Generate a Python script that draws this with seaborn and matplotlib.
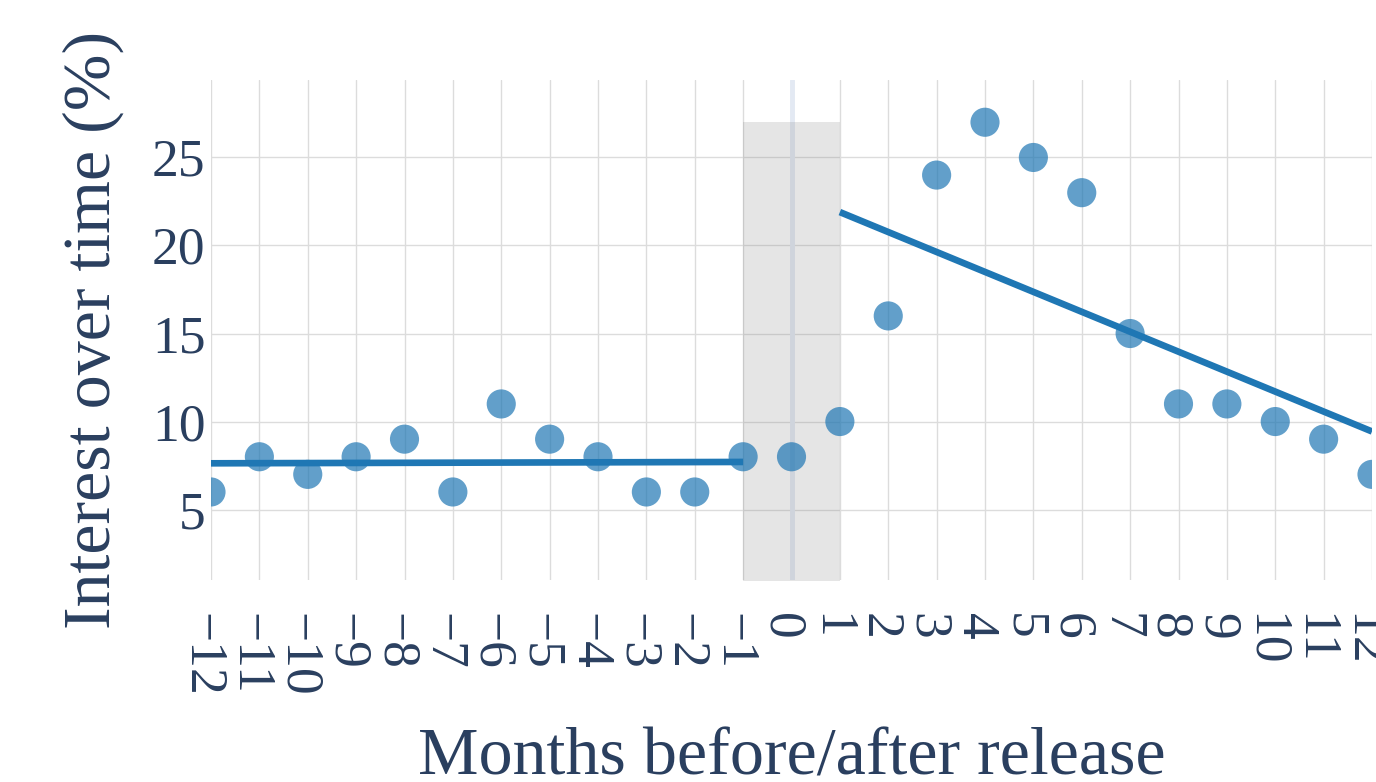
import numpy as np
import pandas as pd
import matplotlib
matplotlib.use('Agg')
import matplotlib.pyplot as plt
import matplotlib.transforms as mtransforms
import seaborn as sns

# data
months = list(range(-12, 13))
interest = [6, 8, 7, 8, 9, 6, 11, 9, 8, 6, 6, 8, 8,
            10, 16, 24, 27, 25, 23, 15, 11, 11, 10, 9, 7]
y_ticks = [5, 10, 15, 20, 25]

# release window (shaded) and the two fitted segments
shade_start, shade_end = -1, 1
pre_months = list(range(-12, 0))
post_months = list(range(1, 13))

df = pd.DataFrame({'month': months, 'interest': interest})
pre = df[df['month'].isin(pre_months)]
post = df[df['month'].isin(post_months)]

TEXT = '#2a3f5f'
BLUE = '#1f77b4'

sns.set_style('white')
plt.rcParams['font.family'] = ['Liberation Serif', 'DejaVu Serif']
plt.rcParams['axes.unicode_minus'] = True

fig = plt.figure(figsize=(13.76, 7.82), dpi=100)
ax = fig.add_axes([211 / 1376, 1 - 580 / 782, (1372 - 211) / 1376, 500 / 782])

# grid
for t in months:
    ax.axvline(t, color='#dcdcdc', lw=1, zorder=0)
for t in y_ticks:
    ax.axhline(t, color='#dcdcdc', lw=1, zorder=0)
ax.axvline(0, color='#e3e9f3', lw=3.5, zorder=0.5)

# release window
ax.fill_between([shade_start, shade_end], 0, max(interest),
                color='grey', alpha=0.2, lw=0, zorder=1)

sns.scatterplot(data=df, x='month', y='interest', ax=ax, color=BLUE,
                alpha=0.7, s=440, edgecolor='none', zorder=3)

for seg in (pre, post):
    sns.regplot(data=seg, x='month', y='interest', ax=ax, scatter=False,
                ci=None, color=BLUE, truncate=True,
                line_kws={'lw': 4.8, 'zorder': 4, 'solid_capstyle': 'butt'})

ax.set_xlim(-12, 12)
ax.set_ylim(1.0, 29.4)
ax.set_xticks(months)
ax.set_xticklabels([str(m).replace('-', '\u2212') for m in months],
                   rotation=-90, va='top', ha='center')
ax.set_yticks(y_ticks)
ax.tick_params(axis='both', length=0, labelsize=38.5, colors=TEXT)
ax.tick_params(axis='x', pad=24)
ax.tick_params(axis='y', pad=4)
for s in ax.spines.values():
    s.set_visible(False)

# nudge rotated tick labels a little left, as in the reference
shift = mtransforms.ScaledTranslation(-10 / 100, 0, fig.dpi_scale_trans)
for lab in ax.get_xticklabels():
    lab.set_transform(lab.get_transform() + shift)

ax.set_xlabel('Months before/after release', fontsize=49, color=TEXT)
ax.xaxis.set_label_coords(0.5, -0.39)
ax.xaxis.label.set_va('baseline')
ax.set_ylabel('Interest over time (%)', fontsize=49, color=TEXT, labelpad=20)

fig.savefig('out.png', dpi=100)
